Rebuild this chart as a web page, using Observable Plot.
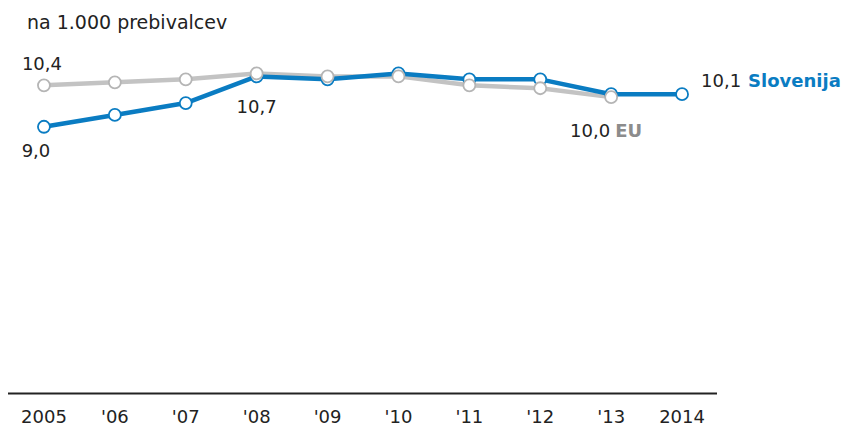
<!DOCTYPE html>
<html>
<head>
<meta charset="utf-8">
<script src="https://cdn.jsdelivr.net/npm/d3@7"></script>
<script src="https://cdn.jsdelivr.net/npm/@observablehq/plot@0.6"></script>
<style>
  body { margin: 0; background: #fff; font-family: "DejaVu Sans", Verdana, sans-serif; }
  #title { height: 40px; box-sizing: border-box; padding-left: 27px; font-size: 19px; line-height: 44px; color: #222; }
</style>
</head>
<body>
<div id="title">na 1.000 prebivalcev</div>
<div id="chart"></div>
<script>
const years = [2005, 2006, 2007, 2008, 2009, 2010, 2011, 2012, 2013, 2014];
const tickLabels = ["2005", "'06", "'07", "'08", "'09", "'10", "'11", "'12", "'13", "2014"];
const slovenia = [9.0, 9.4, 9.8, 10.7, 10.6, 10.8, 10.6, 10.6, 10.1, 10.1];
const eu = [10.4, 10.5, 10.6, 10.8, 10.7, 10.7, 10.4, 10.3, 10.0, null];

const BLUE = "#0a7cc2";
const GRAY = "#c3c3c3";
const GRAY_TXT = "#8c8c8c";

const sloData = years.map((y, i) => ({year: y, value: slovenia[i]}));
const euData = years.map((y, i) => ({year: y, value: eu[i]})).filter(d => d.value != null);
const fmt = v => v.toFixed(1).replace(".", ",");

const lbl = (arr, i) => [{year: years[i], value: arr[i], text: fmt(arr[i])}];

const textStyle = {fontSize: 18, fontFamily: "DejaVu Sans, Verdana, sans-serif", fill: "#222"};

const chart = Plot.plot({
  width: 848,
  height: 386,
  marginLeft: 8,
  marginRight: 131,
  marginTop: 27,
  marginBottom: 33,
  x: {type: "point", domain: years, padding: 0.5, round: false},
  y: {domain: [0, 11], axis: null},
  marks: [
    Plot.ruleY([0], {stroke: "#222", strokeWidth: 2}),
    Plot.axisX({
      tickSize: 0,
      tickPadding: 17,
      tickFormat: d => tickLabels[years.indexOf(d)],
      fontSize: 18,
      fontFamily: "DejaVu Sans, Verdana, sans-serif",
      fill: "#222",
      label: null
    }),
    Plot.line(euData, {x: "year", y: "value", stroke: GRAY, strokeWidth: 4.5}),
    Plot.line(sloData, {x: "year", y: "value", stroke: BLUE, strokeWidth: 4.5}),
    Plot.dot(sloData, {x: "year", y: "value", r: 6, fill: "white", stroke: BLUE, strokeWidth: 1.8}),
    Plot.dot(euData, {x: "year", y: "value", r: 6, fill: "white", stroke: "#b5b5b5", strokeWidth: 1.8}),
    // labels
    Plot.text(lbl(eu, 0), {x: "year", y: "value", text: "text", dx: -2, dy: -21, ...textStyle}),
    Plot.text(lbl(slovenia, 0), {x: "year", y: "value", text: "text", dx: -8, dy: 24, ...textStyle}),
    Plot.text(lbl(slovenia, 3), {x: "year", y: "value", text: "text", dx: 0, dy: 31, ...textStyle}),
    Plot.text(lbl(slovenia, 9), {x: "year", y: "value", text: "text", textAnchor: "start", dx: 19, dy: -13, ...textStyle}),
    Plot.text(lbl(slovenia, 9), {x: "year", y: "value", text: () => "Slovenija", textAnchor: "start", dx: 66, dy: -13, ...textStyle, fill: BLUE, fontWeight: "bold"}),
    Plot.text(lbl(eu, 8), {x: "year", y: "value", text: "text", textAnchor: "end", dx: -1, dy: 34, ...textStyle}),
    Plot.text(lbl(eu, 8), {x: "year", y: "value", text: () => "EU", textAnchor: "start", dx: 4, dy: 34, ...textStyle, fill: GRAY_TXT, fontWeight: "bold"})
  ]
});
document.getElementById("chart").appendChild(chart);
</script>
</body>
</html>
